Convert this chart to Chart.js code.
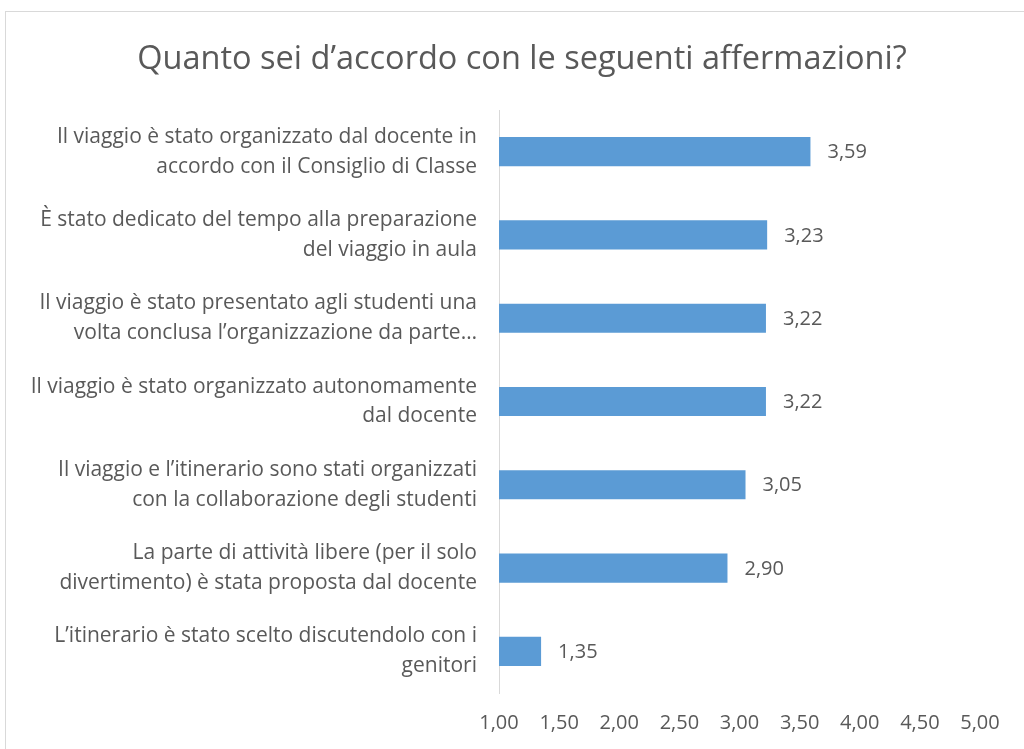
<!DOCTYPE html>
<html lang="it">
<head>
  <meta charset="UTF-8" />
  <title>Quanto sei d’accordo con le seguenti affermazioni?</title>
  <script src="https://cdn.jsdelivr.net/npm/chart.js"></script>
  <style>
    body {
      margin: 0;
      background: #fff;
      overflow: hidden;
    }

    #frame {
      position: absolute;
      left: 5px;
      top: 11px;
      width: 1040px;
      height: 760px;
      border: 1px solid #d9d9d9;
    }

    #frame canvas {
      position: absolute;
      left: 0;
      top: 0;
    }

    h1 {
      position: absolute;
      left: 0;
      top: 25px;
      width: 1032px;
      margin: 0;
      text-align: center;
      font-family: "Open Sans", sans-serif;
      font-size: 32.5px;
      font-weight: normal;
      line-height: 40px;
      color: #595959;
      z-index: 1;
    }
  </style>
</head>
<body>
  <div id="frame">
    <h1>Quanto sei d’accordo con le seguenti affermazioni?</h1>
    <canvas id="chart" width="1040" height="760"></canvas>
  </div>

  <script>
    const statements = [
      ['Il viaggio è stato organizzato dal docente in', 'accordo con il Consiglio di Classe'],
      ['È stato dedicato del tempo alla preparazione', 'del viaggio in aula'],
      ['Il viaggio è stato presentato agli studenti una', 'volta conclusa l’organizzazione da parte…'],
      ['Il viaggio è stato organizzato autonomamente', 'dal docente'],
      ['Il viaggio e l’itinerario sono stati organizzati', 'con la collaborazione degli studenti'],
      ['La parte di attività libere (per il solo', 'divertimento) è stata proposta dal docente'],
      ['L’itinerario è stato scelto discutendolo con i', 'genitori']
    ];
    const scores = [3.59, 3.23, 3.22, 3.22, 3.05, 2.90, 1.35];
    const axisMin = 1;
    const axisMax = 5;
    const axisStep = 0.5;

    const textColor = '#595959';
    const fontFamily = '"Open Sans", sans-serif';

    const fmt = v => Number(v).toFixed(2).replace('.', ',');

    // value labels to the right of each bar
    const valueLabels = {
      id: 'valueLabels',
      afterDatasetsDraw(chart) {
        const ctx = chart.ctx;
        const meta = chart.getDatasetMeta(0);
        ctx.save();
        ctx.fillStyle = textColor;
        ctx.font = '20px ' + fontFamily;
        ctx.textAlign = 'left';
        ctx.textBaseline = 'middle';
        meta.data.forEach((bar, i) => {
          ctx.fillText(fmt(scores[i]), bar.x + 17, bar.y + 1);
        });
        ctx.restore();
      }
    };

    new Chart(document.getElementById('chart'), {
      type: 'bar',
      data: {
        labels: statements,
        datasets: [{
          data: scores,
          backgroundColor: '#5b9bd5',
          categoryPercentage: 0.7,
          barPercentage: 0.5
        }]
      },
      options: {
        indexAxis: 'y',
        responsive: false,
        animation: false,
        layout: {
          padding: { left: 0, right: 66, top: 98, bottom: 0 }
        },
        plugins: {
          legend: { display: false },
          tooltip: { enabled: false }
        },
        scales: {
          x: {
            min: axisMin,
            max: axisMax,
            grid: { display: false, drawTicks: false },
            border: { display: false },
            ticks: {
              stepSize: axisStep,
              color: textColor,
              padding: 18,
              font: { family: fontFamily, size: 20 },
              callback: v => fmt(v)
            },
            afterFit(scale) { scale.height = 79; }
          },
          y: {
            grid: { display: false, drawTicks: false },
            border: { display: true, color: '#d9d9d9', width: 1 },
            ticks: {
              color: textColor,
              padding: 22,
              font: { family: fontFamily, size: 21, lineHeight: 1.42 }
            },
            afterFit(scale) { scale.width = 493; }
          }
        }
      },
      plugins: [valueLabels]
    });
  </script>
</body>
</html>
